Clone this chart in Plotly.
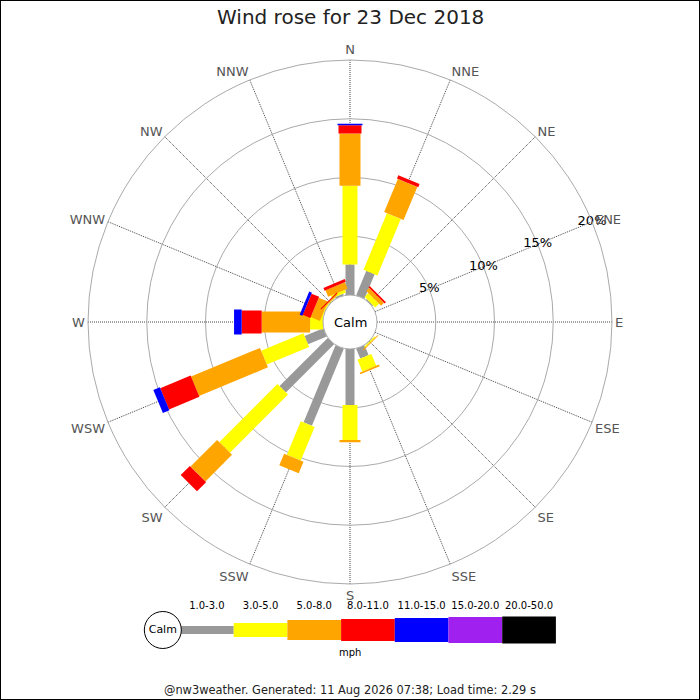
import numpy as np
import plotly.graph_objects as go

directions = ["N", "NNE", "NE", "ENE", "E", "ESE", "SE", "SSE",
              "S", "SSW", "SW", "WSW", "W", "WNW", "NW", "NNW"]
speed_classes = ["1.0-3.0", "3.0-5.0", "5.0-8.0", "8.0-11.0",
                 "11.0-15.0", "15.0-20.0", "20.0-50.0"]

# percentage of time per direction, one list per speed class
s_1_3 = [2.6, 2.26, 0.1, 0, 0, 0, 0.05, 0.91, 4.77, 7.1, 5.8, 1.73, 0, 0, 0.05, 0.15]
s_3_5 = [6.7, 5.2, 0.45, 0, 0, 0, 0.1, 1.09, 2.97, 3.1, 7.0, 3.9, 1.1, 0.1, 0.05, 0.25]
s_5_8 = [4.45, 3.05, 0.35, 0, 0, 0, 0.08, 0.15, 0.2, 1.07, 3.2, 6.35, 4.12, 0.85, 0.1, 0.6]
s_8_11 = [0.7, 0.3, 0.15, 0, 0, 0, 0, 0, 0, 0, 1.1, 2.8, 1.7, 0.7, 0.08, 0.25]
s_11_15 = [0.12, 0, 0, 0, 0, 0, 0, 0, 0, 0, 0, 0.6, 0.65, 0.25, 0, 0]
s_15_20 = [0] * 16
s_20_50 = [0] * 16

radial_ticks = [5, 10, 15, 20]
radial_tick_text = ["5%", "10%", "15%", "20%"]

series = [s_1_3, s_3_5, s_5_8, s_8_11, s_11_15, s_15_20, s_20_50]
colors = ["#999999", "#ffff00", "#ffa500", "#ff0000", "#0000ff", "#a020f0", "#000000"]
widths = [9, 15, 21, 23, 25, 27, 28]

fig = go.Figure()

data = np.array(series, dtype=float)
tops = np.cumsum(data, axis=0)
bottoms = tops - data

for k in range(len(series)):
    rr, tt = [], []
    for j, d in enumerate(directions):
        if data[k, j] > 0:
            rr += [bottoms[k, j], tops[k, j], None]
            tt += [d, d, None]
    if rr:
        fig.add_trace(go.Scatterpolar(r=rr, theta=tt, mode="lines",
                                      line=dict(color=colors[k], width=widths[k]),
                                      hoverinfo="skip", showlegend=False))

# radial tick labels along ENE
fig.add_trace(go.Scatterpolar(r=radial_ticks, theta=["ENE"] * len(radial_ticks),
                              mode="text", text=radial_tick_text,
                              textfont=dict(size=13, color="#000", family="DejaVu Sans"),
                              hoverinfo="skip", showlegend=False))

# legend strip
leg_x0 = list(range(len(speed_classes)))
for k in range(len(speed_classes)):
    fig.add_trace(go.Scatter(x=[leg_x0[k], leg_x0[k] + 1], y=[0.5, 0.5], mode="lines",
                             line=dict(color=colors[k], width=widths[k] - 1),
                             xaxis="x2", yaxis="y2", hoverinfo="skip", showlegend=False))
fig.add_trace(go.Scatter(x=[k + 0.5 for k in leg_x0], y=[0.83] * len(leg_x0),
                         mode="text", text=speed_classes,
                         textfont=dict(size=10, color="#000", family="DejaVu Sans"),
                         xaxis="x2", yaxis="y2", hoverinfo="skip", showlegend=False))
fig.add_trace(go.Scatter(x=[-0.32], y=[0.5], mode="markers+text", text=["Calm"],
                         textposition="middle center",
                         textfont=dict(size=11, color="#000", family="DejaVu Sans"),
                         marker=dict(size=37, color="white", line=dict(color="#000", width=1)),
                         xaxis="x2", yaxis="y2", hoverinfo="skip", showlegend=False))
fig.add_trace(go.Scatter(x=[3.17], y=[0.171], mode="text", text=["mph"],
                         textfont=dict(size=10, color="#000", family="DejaVu Sans"),
                         xaxis="x2", yaxis="y2", hoverinfo="skip", showlegend=False))

fig.update_layout(
    width=700, height=700,
    margin=dict(l=0, r=0, t=0, b=0),
    paper_bgcolor="white", plot_bgcolor="white",
    font=dict(family="DejaVu Sans", color="#000"),
    polar=dict(
        domain=dict(x=[88 / 700, 612 / 700], y=[1 - 584 / 700, 1 - 60 / 700]),
        hole=0.103,
        bgcolor="white",
        radialaxis=dict(range=[0, 20], tickvals=[0] + radial_ticks, showticklabels=False,
                        ticks="", showline=False, gridcolor="#aaaaaa", gridwidth=1),
        angularaxis=dict(direction="clockwise", rotation=90, type="category",
                         categoryarray=directions, categoryorder="array",
                         ticks="", showline=True, linecolor="#aaaaaa", linewidth=1,
                         gridcolor="#444444", griddash="1px,1px", gridwidth=1,
                         tickfont=dict(size=13, color="#555555", family="DejaVu Sans")),
    ),
    xaxis2=dict(domain=[0, 1], range=[-180 / 53.7, 520 / 53.7], visible=False, anchor="y2"),
    yaxis2=dict(domain=[1 - 665 / 700, 1 - 595 / 700], range=[0, 1], visible=False, anchor="x2"),
    annotations=[
        dict(text="Wind rose for 23 Dec 2018", x=0.5, y=1 - 17 / 700, xref="paper", yref="paper",
             showarrow=False, font=dict(size=20, color="#222222", family="DejaVu Sans"),
             xanchor="center", yanchor="middle"),
        dict(text="Calm", x=0.5, y=1 - 322 / 700, xref="paper", yref="paper",
             showarrow=False, font=dict(size=13, color="#000", family="DejaVu Sans"),
             xanchor="center", yanchor="middle"),
        dict(text="@nw3weather. Generated: 11 Aug 2026 07:38; Load time: 2.29 s",
             x=0.5, y=1 - 690 / 700, xref="paper", yref="paper",
             showarrow=False, font=dict(size=11.4, color="#222222", family="DejaVu Sans"),
             xanchor="center", yanchor="middle"),
    ],
    shapes=[dict(type="rect", xref="paper", yref="paper", x0=0, x1=1, y0=0, y1=1,
                 line=dict(color="#000", width=2))],
)

fig.write_html("out.html", config={"displayModeBar": False},
               post_script="document.body.style.margin='0px';document.body.style.overflow='hidden';")
